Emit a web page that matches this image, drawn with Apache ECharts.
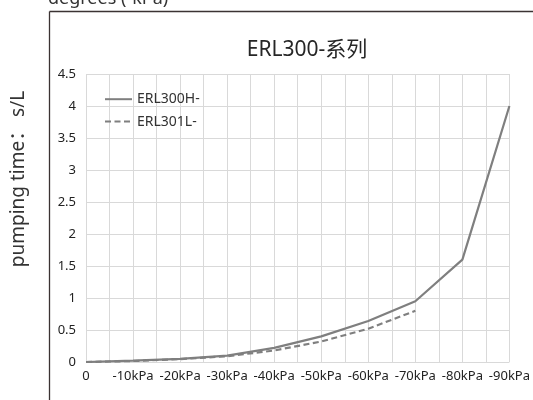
<!DOCTYPE html>
<html><head><meta charset="utf-8">
<script src="https://cdn.jsdelivr.net/npm/echarts@6/dist/echarts.min.js"></script>
<style>html,body{margin:0;padding:0;background:#fff}#c{width:533px;height:400px}</style>
</head><body><div id="c"></div>
<script>
const categories = ['0','-10kPa','-20kPa','-30kPa','-40kPa','-50kPa','-60kPa','-70kPa','-80kPa','-90kPa'];
const erl300H = [0, 0.02, 0.05, 0.1, 0.22, 0.4, 0.64, 0.95, 1.6, 4.0];
const erl301L = [0, 0.015, 0.045, 0.09, 0.18, 0.32, 0.52, 0.8];
const yTicks = [0, 0.5, 1, 1.5, 2, 2.5, 3, 3.5, 4, 4.5];

const toXY = arr => arr.map((v, i) => [i * 10, v]);
const chart = echarts.init(document.getElementById('c'));
const font = '"Noto Sans", "Noto Sans CJK SC", sans-serif';
chart.setOption({
  animation: false,
  textStyle: {fontFamily: font},
  title: {text: 'ERL300-系列', left: 302, top: 35, textAlign: 'center',
    textStyle: {fontSize: 21, fontWeight: 'normal', color: '#262626', fontFamily: font}},
  legend: {left: 99, top: 87, orient: 'vertical', itemGap: 8, itemWidth: 27, itemHeight: 18,
    textStyle: {fontSize: 14, color: '#333', fontFamily: font},
    itemStyle: {opacity: 0},
    data: ['ERL300H-', 'ERL301L-']},
  grid: {left: 86, right: 23, top: 74, bottom: 38},
  xAxis: {type: 'value', min: 0, max: 90, interval: 10,
    axisLine: {show: false}, axisTick: {show: false},
    splitLine: {show: true, lineStyle: {color: '#d9d9d9', width: 1}},
    minorTick: {show: false, splitNumber: 2},
    minorSplitLine: {show: true, lineStyle: {color: '#d9d9d9', width: 1}},
    axisLabel: {fontSize: 13, color: '#222', margin: 8, fontFamily: font,
      formatter: v => categories[Math.round(v / 10)]}},
  yAxis: {type: 'value', min: yTicks[0], max: yTicks[yTicks.length - 1], interval: 0.5,
    axisLine: {show: false}, axisTick: {show: false},
    splitLine: {show: true, lineStyle: {color: '#d9d9d9', width: 1}},
    axisLabel: {fontSize: 13, color: '#222', margin: 10, fontFamily: font}},
  series: [
    {name: 'ERL300H-', type: 'line', data: toXY(erl300H), symbol: 'circle', showSymbol: false,
      lineStyle: {color: '#7f7f7f', width: 2.2}, itemStyle: {color: '#7f7f7f'}},
    {name: 'ERL301L-', type: 'line', data: toXY(erl301L), symbol: 'circle', showSymbol: false,
      lineStyle: {color: '#7f7f7f', width: 2.2, type: [6, 3.5]}, itemStyle: {color: '#7f7f7f'}}
  ],
  graphic: [
    {type: 'line', shape: {x1: 49.5, y1: 11.5, x2: 533, y2: 11.5}, style: {stroke: '#3b3333', lineWidth: 1.3}},
    {type: 'line', shape: {x1: 49.5, y1: 11.5, x2: 49.5, y2: 400}, style: {stroke: '#3b3333', lineWidth: 1.3}},
    {type: 'text', x: 48, y: -1, style: {text: 'degrees (-kPa)', fontSize: 18, fill: '#333', fontFamily: font, verticalAlign: 'middle'}},
    {type: 'text', x: 19, y: 179, rotation: Math.PI / 2,
      style: {text: 'pumping time： s/L', fontSize: 19, fill: '#333', fontFamily: font, align: 'center', verticalAlign: 'middle'}}
  ]
});
</script></body></html>
